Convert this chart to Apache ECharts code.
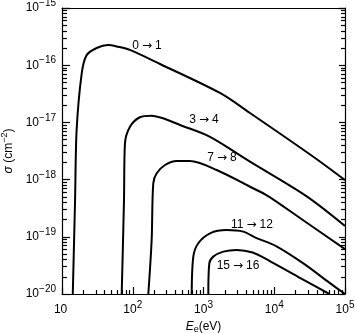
<!DOCTYPE html>
<html>
<head>
<meta charset="utf-8">
<script src="https://cdn.jsdelivr.net/npm/echarts@6/dist/echarts.min.js"></script>
<style>
html, body { margin: 0; padding: 0; background: #fff; }
#main { width: 356px; height: 333px; }
</style>
</head>
<body>
<div id="main"></div>
<script>
// energies (eV) and cross sections (cm^2)
var e01 = [14.2, 15.3, 16.1, 19.0, 22.3, 30.9, 44.7, 62, 91, 243, 1710, 4540, 37700, 100000];
var s01 = [1e-20, 4.4e-19, 7.4e-18, 7.2e-17, 1.5e-16, 2.0e-16, 2.25e-16, 2.1e-16, 1.85e-16, 1.05e-16, 3.27e-17, 1.46e-17, 2.39e-18, 9.8e-19];

var e34 = [69.8, 75.2, 77.6, 91.4, 126, 185, 268, 466, 1236, 4540, 28100, 100000];
var s34 = [1e-20, 4.4e-19, 4.3e-18, 8.4e-18, 1.23e-17, 1.31e-17, 1.18e-17, 9.0e-18, 5.6e-18, 2.06e-18, 5.2e-19, 1.55e-19];

var e78 = [166, 185, 195, 218, 286, 418, 644, 1538, 4540, 8070, 23100, 100000];
var s78 = [1e-20, 8.8e-20, 8.6e-19, 1.29e-18, 1.8e-18, 2.11e-18, 2.11e-18, 1.47e-18, 7.5e-19, 5.2e-19, 2.13e-19, 6.1e-20];

var e1112 = [681, 718, 844, 1236, 2130, 3650, 5520, 10600, 25200, 60000, 100000];
var s1112 = [1e-20, 4.5e-20, 7.7e-20, 1.15e-19, 1.31e-19, 1.23e-19, 9.6e-20, 6.9e-20, 3.5e-20, 1.58e-20, 1e-20];

var e1516 = [1170, 1208, 1375, 1905, 2944, 4955, 8510, 25200, 60000];
var s1516 = [1e-20, 3.44e-20, 4.5e-20, 5.5e-20, 5.9e-20, 5.3e-20, 3.8e-20, 1.81e-20, 1e-20];

var fromLevel = ['0', '3', '7', '11', '15'];
var toLevel = ['1', '4', '8', '12', '16'];

// tick labels (exponents)
var xTickExp = [' ', '2', '3', '4', '5'];
var yTickExp = ['\u221220', '\u221219', '\u221218', '\u221217', '\u221216', '\u221215'];

var font = 'Liberation Sans, Arial, sans-serif';
var xMin = 10, xMax = 1e5, yMin = 1e-20, yMax = 1e-15;

function pairs(xs, ys) {
    var out = [];
    for (var i = 0; i < xs.length; i++) out.push([xs[i], ys[i]]);
    return out;
}

var tickRich = {
    b: { fontSize: 12, fontFamily: font, color: '#000' },
    s: { fontSize: 10, fontFamily: font, color: '#000', padding: [0, 0, 9, 0] }
};

// where each curve's label sits (data coords)
var labelAt = [[159, 2.17e-16], [1016, 1.10e-17], [1824, 2.39e-18], [4850, 1.61e-19], [3077, 3.09e-20]];

var labelRich = {
    n: { fontSize: 12, fontFamily: font, color: '#000' },
    a: { fontSize: 12, fontFamily: 'DejaVu Sans', color: '#000', padding: [0, 3, 0, 3] }
};

function curve(i, xs, ys) {
    return {
        name: fromLevel[i] + ' to ' + toLevel[i],
        type: 'line',
        data: pairs(xs, ys),
        showSymbol: false,
        smooth: 0.3,
        lineStyle: { color: '#000', width: 2 },
        z: 3,
        markPoint: {
            symbol: 'circle',
            symbolSize: 1,
            itemStyle: { color: 'transparent' },
            label: {
                show: true, position: 'inside',
                formatter: '{n|' + fromLevel[i] + '}{a|\u2192}{n|' + toLevel[i] + '}',
                rich: labelRich
            },
            data: [{ coord: labelAt[i] }]
        }
    };
}

function minor(len) {
    return { show: true, splitNumber: 9, length: len, lineStyle: { color: '#000', width: 1.2 } };
}
var axLine = { show: true, lineStyle: { color: '#000', width: 1.2 } };

var myChart = echarts.init(document.getElementById('main'));
var option = {
    animation: false,
    backgroundColor: '#fff',
    textStyle: { fontFamily: font },
    grid: { left: 62, right: 11, top: 8, bottom: 39, outerBoundsMode: 'none', containLabel: false },
    xAxis: [{
        type: 'log',
        min: xMin, max: xMax,
        splitLine: { show: false },
        minorSplitLine: { show: false },
        axisLine: axLine,
        axisTick: { inside: true, length: 7, lineStyle: { color: '#000', width: 1.2 } },
        minorTick: minor(4),
        axisLabel: {
            margin: 6,
            formatter: function (v) {
                var i = Math.round(Math.log10(v)) - 1;
                return '{b|10}{s|' + xTickExp[i] + '}';
            },
            rich: tickRich
        },
        name: '{i|E}{e|e}{b|(eV)}',
        nameLocation: 'middle',
        nameGap: 20,
        nameTextStyle: {
            rich: {
                i: { fontSize: 12, fontStyle: 'italic', fontFamily: font, color: '#000' },
                e: { fontSize: 9, fontFamily: font, color: '#000', padding: [6, 0, 0, 0] },
                b: { fontSize: 12, fontFamily: font, color: '#000' }
            }
        }
    }, {
        type: 'log',
        position: 'top',
        min: xMin, max: xMax,
        splitLine: { show: false },
        axisLine: axLine,
        axisTick: { show: false },
        axisLabel: { show: false }
    }],
    yAxis: [{
        type: 'log',
        min: yMin, max: yMax,
        splitLine: { show: false },
        minorSplitLine: { show: false },
        axisLine: axLine,
        axisTick: { inside: true, length: 8, lineStyle: { color: '#000', width: 1.2 } },
        minorTick: minor(5),
        axisLabel: {
            margin: 6,
            formatter: function (v) {
                var i = Math.round(Math.log10(v)) + 20;
                return '{b|10}{s|' + yTickExp[i] + '}';
            },
            rich: tickRich
        },
        name: '{i|\u03c3} {b|(cm}{s|\u22122}{b|)}',
        nameLocation: 'middle',
        nameGap: 44,
        nameTextStyle: {
            rich: {
                i: { fontSize: 12, fontStyle: 'italic', fontFamily: font, color: '#000' },
                b: { fontSize: 12, fontFamily: font, color: '#000' },
                s: { fontSize: 9, fontFamily: font, color: '#000', padding: [0, 0, 9, 0] }
            }
        }
    }, {
        type: 'log',
        position: 'right',
        min: yMin, max: yMax,
        splitLine: { show: false },
        minorSplitLine: { show: false },
        axisLine: axLine,
        axisTick: { inside: true, length: 6, lineStyle: { color: '#000', width: 1.2 } },
        minorTick: minor(4),
        axisLabel: { show: false }
    }],
    series: [
        curve(0, e01, s01),
        curve(1, e34, s34),
        curve(2, e78, s78),
        curve(3, e1112, s1112),
        curve(4, e1516, s1516)
    ]
};
myChart.setOption(option);
</script>
</body>
</html>
